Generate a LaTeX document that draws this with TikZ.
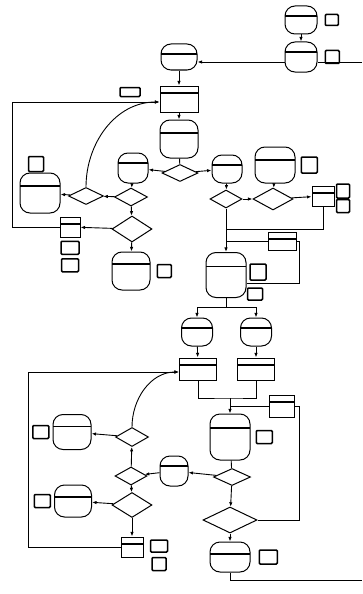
\documentclass[tikz,border=0pt]{standalone}
\usepackage{tikz}
\usetikzlibrary{arrows.meta,positioning,shapes.geometric,calc}
\tikzset{
  wh/.style 2 args={minimum width=#1pt,minimum height=#2pt},
  tank/.style={draw,line width=1pt,rounded corners=10pt,fill=white,inner sep=0pt,
    path picture={\draw[line width=1.3pt] ([yshift=-#1]path picture bounding box.north west) -- ([yshift=-#1]path picture bounding box.north east);}},
  tank/.default=10pt,
  box/.style={draw,line width=1pt,fill=white,inner sep=0pt,
    path picture={\draw[line width=1.3pt] ([yshift=-7pt]path picture bounding box.north west) -- ([yshift=-7pt]path picture bounding box.north east);}},
  note/.style={draw,line width=1.5pt,rounded corners=1pt,fill=white,inner sep=0pt},
  decision/.style={diamond,draw,line width=1pt,fill=white,inner sep=0pt},
  arrow/.style={-{Latex[length=1.6mm]},line width=0.9pt},
  line/.style={line width=0.9pt}
}
\begin{document}
\begin{tikzpicture}[x=1pt,y=-1pt]
  \useasboundingbox (0,0) rectangle (362,594);
  % upper part
  \node[tank,wh={32}{28}] (t1) at (301,20) {};
  \node[note,wh={13}{11},right=7pt of t1] (n1) {};
  \node[tank,wh={32}{30}] (t2) at (301,57) {};
  \node[note,wh={14}{13},right=7pt of t2] (n2) {};
  \node[tank,wh={36}{26}] (t3) at (179,57) {};
  \node[box,wh={38}{26}] (b1) at (179,99) {};
  \node[note,wh={20}{9}] (l1) at (130,92) {};
  \node[tank=13pt,wh={38}{38}] (t4) at (179,139) {};
  \node[decision,wh={36}{17}] (d1) at (180,173) {};
  \node[tank,wh={30}{30}] (t5) at (133,168) {};
  \node[tank,wh={30}{28}] (t6) at (227,169) {};
  \node[decision,wh={33}{18}] (d2) at (131,197) {};
  \node[decision,wh={35}{17}] (d3) at (86,196) {};
  \node[tank=13pt,wh={40}{40}] (t7) at (40,193) {};
  \node[note,wh={15}{15}] (n3) at (36,164) {};
  \node[decision,wh={40}{26}] (d4) at (132,229) {};
  \node[box,wh={20}{20}] (b2) at (70,227) {};
  \node[note,wh={18}{13},below=3pt of b2] (n4) {};
  \node[note,wh={17}{13},below=3pt of n4] (n5) {};
  \node[tank=12pt,wh={38}{38}] (t8) at (131,271) {};
  \node[note,wh={14}{13},right=6pt of t8] (n6) {};
  \node[tank=13pt,wh={40}{36}] (t9) at (275,165) {};
  \node[note,wh={16}{16},right=5pt of t9] (n7) {};
  \node[decision,wh={32}{18}] (d5) at (226,199) {};
  \node[decision,wh={40}{22}] (d6) at (273,199) {};
  \node[box,wh={22}{20}] (b3) at (323,196) {};
  \node[note,wh={13}{14}] (n8) at (343,191) {};
  \node[note,wh={13}{13}] (n9) at (343,206) {};
  \node[box,wh={28}{18}] (b4) at (282,241) {};
  \node[tank=14pt,wh={40}{45}] (t10) at (226,275) {};
  \node[note,wh={16}{16}] (n10) at (258,272) {};
  \node[note,wh={15}{12}] (n11) at (255,294) {};
  % lower part
  \node[tank,wh={31}{28}] (t11) at (197,332) {};
  \node[tank,wh={31}{28}] (t12) at (256,332) {};
  \node[box,wh={37}{22}] (b5) at (198,369) {};
  \node[box,wh={37}{22}] (b6) at (256,369) {};
  \node[box,wh={25}{22}] (b7) at (282,406) {};
  \node[tank=14pt,wh={40}{46}] (t13) at (230,437) {};
  \node[note,wh={16}{13},right=5pt of t13] (n12) {};
  \node[decision,wh={37}{17}] (d7) at (232,477) {};
  \node[tank,wh={28}{30}] (t14) at (174,471) {};
  \node[decision,wh={32}{18}] (d8) at (131,476) {};
  \node[decision,wh={33}{19}] (d9) at (132,437) {};
  \node[tank=12pt,wh={38}{35}] (t15) at (72,432) {};
  \node[note,wh={16}{13},left=3pt of t15] (n13) {};
  \node[decision,wh={40}{25}] (d10) at (132,505) {};
  \node[tank=12pt,wh={37}{32}] (t16) at (73,501) {};
  \node[note,wh={16}{13},left=3pt of t16] (n14) {};
  \node[box,wh={22}{20}] (b8) at (132,547) {};
  \node[note,wh={17}{12}] (n15) at (159,546) {};
  \node[note,wh={14}{13}] (n16) at (159,564) {};
  \node[decision,wh={54}{26}] (d11) at (230,520) {};
  \node[tank=12pt,wh={40}{30}] (t17) at (230,557) {};
  \node[note,wh={18}{14},right=8pt of t17] (n17) {};
  \coordinate (j1) at (230,398);
  \coordinate (j2) at (226,307);
  % connectors, upper part
  \draw[arrow] (t1) -- (t2);
  \draw[line] (362,62) -- (t2.east |- 0,62);
  \draw[arrow] (t2.west |- 0,62) -- (t3.east |- 0,62);
  \draw[arrow] (t3) -- (b1);
  \draw[arrow] (b1) -- (t4);
  \draw[line] (t4) -- (d1);
  \draw[arrow] (d1) -- (t5);
  \draw[arrow] (d1) -- (t6);
  \draw[arrow] (t5) -- (d2);
  \draw[arrow] (d2) -- (d3);
  \draw[arrow] (d3) -- (t7);
  \draw[arrow] (d3.north) to[out=90,in=180] ([yshift=-3pt]b1.west);
  \draw[arrow] (d2) -- (d4);
  \draw[arrow] (d4) -- (b2);
  \draw[arrow] (d4) -- (t8);
  \draw[arrow] (b2.west) -- (12,227) |- ([yshift=-3pt]b1.west);
  \draw[arrow] (t6) -- (d5);
  \draw[arrow] (t9) -- (d6);
  \draw[arrow] (d5) -- (d6);
  \draw[arrow] (d6) -- (b3);
  \draw[line] (b3.south) |- (226,229);
  \draw[arrow] (d5.south) -- (t10.north);
  \draw[line] (b4.west) -- (226,241);
  \draw[line] ([yshift=-8pt]t10.east) -| ([xshift=3pt]b4.east) -- (b4.east);
  \draw[line] (t10.south) -- (j2);
  \draw[arrow] (j2) -| (t11.north);
  \draw[arrow] (j2) -| (t12.north);
  % connectors, lower part
  \draw[arrow] (t11) -- (b5);
  \draw[arrow] (t12) -- (b6);
  \draw[line] (b5.south) |- (j1) -| (b6.south);
  \draw[arrow] (j1) -- (t13.north);
  \draw[line] (b7.west) -- (t13.north |- b7.west);
  \draw[line] (d11.east) -| ([xshift=4pt]b7.east) -- (b7.east);
  \draw[line] (t13) -- (d7);
  \draw[arrow] (d7) -- (t14);
  \draw[arrow] (t14) -- (d8);
  \draw[arrow] (d8) -- (d9);
  \draw[arrow] (d9) -- (t15);
  \draw[arrow] (d9.north) to[out=90,in=180] ([yshift=-3pt]b5.west);
  \draw[arrow] (d8) -- (d10);
  \draw[arrow] (d10) -- (t16);
  \draw[arrow] (d10) -- (b8);
  \draw[arrow] (b8.west) -- (28,547) |- ([yshift=-3pt]b5.west);
  \draw[arrow] (d7) -- (d11);
  \draw[arrow] (d11) -- (t17);
  \draw[line] (t17.south) |- (362,580);
\end{tikzpicture}
\end{document}
